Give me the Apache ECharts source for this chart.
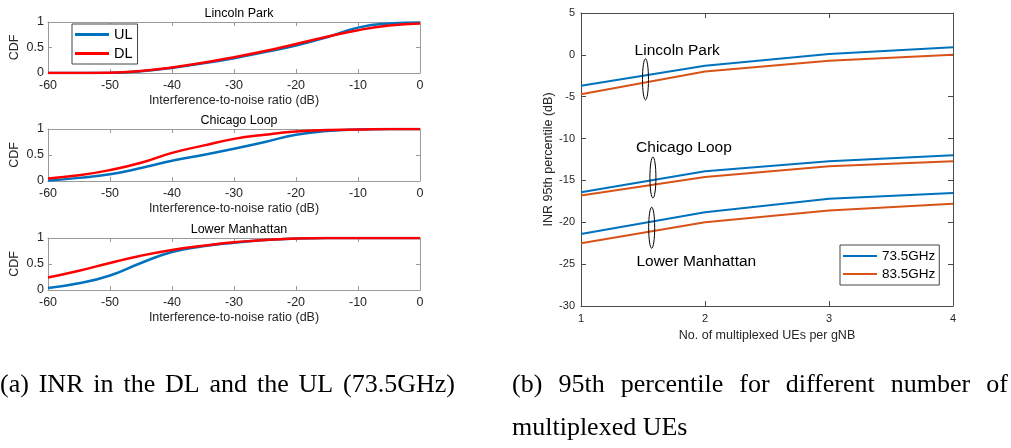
<!DOCTYPE html>
<html><head><meta charset="utf-8">
<script src="https://cdn.jsdelivr.net/npm/echarts@6/dist/echarts.min.js"></script>
<style>html,body{margin:0;padding:0;background:#fff}#c{width:1011px;height:448px}</style>
</head><body><div id="c"></div>
<script>
// ---- Data: left (CDF of INR) ----
const inrDb = [-60,-55,-50,-45,-40,-35,-30,-25,-20,-15,-10,-5,0];
const lincolnUL = [0,0.001,0.004,0.035,0.10,0.19,0.29,0.41,0.54,0.70,0.89,0.97,0.99];
const lincolnDL = [0,0.001,0.005,0.04,0.11,0.20,0.31,0.43,0.57,0.71,0.84,0.93,0.97];
const chicagoUL = [0.01,0.06,0.13,0.25,0.39,0.50,0.62,0.75,0.89,0.96,0.99,1,1];
const chicagoDL = [0.05,0.11,0.21,0.35,0.54,0.68,0.81,0.89,0.95,0.98,0.99,1,1];
const manhattanUL = [0.04,0.13,0.28,0.52,0.73,0.84,0.91,0.96,0.99,1,1,1,1];
const manhattanDL = [0.24,0.37,0.52,0.66,0.77,0.85,0.92,0.96,0.99,1,1,1,1];
const leftTitles = ['Lincoln Park','Chicago Loop','Lower Manhattan'];

// ---- Data: right (95th percentile INR) ----
const ues = [1,2,3,4];
const lincoln735 = [-3.7,-1.3,0.1,0.9];
const lincoln835 = [-4.7,-2.0,-0.7,0.0];
const chicago735 = [-16.4,-13.9,-12.7,-12.0];
const chicago835 = [-16.8,-14.6,-13.3,-12.7];
const manhattan735 = [-21.4,-18.8,-17.2,-16.5];
const manhattan835 = [-22.5,-20.0,-18.6,-17.8];
// annotation ellipses: [x, yTop, yBottom]
const ellipses = [[1.52,-0.47,-5.38],[1.58,-12.2,-17.1],[1.57,-18.2,-23.1]];
// annotation labels: [x, y]
const labelPos = [[1.776,0.5],[1.83,-11.1],[1.93,-24.7]];
const labelText = ['Lincoln Park','Chicago Loop','Lower Manhattan'];

const captionA = '(a) INR in the DL and the UL (73.5GHz)';
const captionB1 = '(b) 95th percentile for different number of';
const captionB2 = 'multiplexed UEs';

const BLUE = '#0072BD', RED = '#FF0000', ORANGE = '#D95319';
const SANS = '"Liberation Sans", Arial, sans-serif';
const SERIF = '"Liberation Serif", "Times New Roman", serif';

const chart = echarts.init(document.getElementById('c'));

const grids = [
  {left:48, right:591, top:22, height:51},
  {left:48, right:591, top:129, height:52},
  {left:48, right:591, top:238, height:52},
  {left:581, right:58, top:13, bottom:142}
];
const xAxes = [], yAxes = [];
const leftAxisColor = '#9a9a9a', rightAxisColor = '#4a4a4a';
for (let g = 0; g < 3; g++) {
  xAxes.push({type:'value', gridIndex:g, min:-60, max:0, interval:10, position:'bottom',
    name:'Interference-to-noise ratio (dB)', nameLocation:'middle', nameGap:21,
    nameTextStyle:{fontFamily:SANS, fontSize:12.5, color:'#262626'},
    axisLine:{show:true, onZero:false, lineStyle:{color:leftAxisColor, width:1}},
    axisTick:{show:true, inside:true, length:4, lineStyle:{color:leftAxisColor}},
    axisLabel:{fontFamily:SANS, fontSize:12.5, color:'#262626', margin:6},
    splitLine:{show:false}});
  xAxes.push({type:'value', gridIndex:g, min:-60, max:0, interval:10, position:'top',
    axisLine:{show:true, onZero:false, lineStyle:{color:leftAxisColor, width:1}},
    axisTick:{show:true, inside:true, length:4, lineStyle:{color:leftAxisColor}},
    axisLabel:{show:false}, splitLine:{show:false}});
  yAxes.push({type:'value', gridIndex:g, min:0, max:1, interval:0.5, position:'left',
    name:'CDF', nameLocation:'middle', nameGap:27, nameRotate:90,
    nameTextStyle:{fontFamily:SANS, fontSize:12.5, color:'#262626'},
    axisLine:{show:true, onZero:false, lineStyle:{color:leftAxisColor, width:1}},
    axisTick:{show:true, inside:true, length:4, lineStyle:{color:leftAxisColor}},
    axisLabel:{fontFamily:SANS, fontSize:12.5, color:'#262626', margin:4},
    splitLine:{show:false}});
  yAxes.push({type:'value', gridIndex:g, min:0, max:1, interval:0.5, position:'right',
    axisLine:{show:true, onZero:false, lineStyle:{color:leftAxisColor, width:1}},
    axisTick:{show:true, inside:true, length:4, lineStyle:{color:leftAxisColor}},
    axisLabel:{show:false}, splitLine:{show:false}});
}
// right panel axes: xAxis index 6,7 ; yAxis index 6,7
xAxes.push({type:'value', gridIndex:3, min:1, max:4, interval:1, position:'bottom',
  name:'No. of multiplexed UEs per gNB', nameLocation:'middle', nameGap:22,
  nameTextStyle:{fontFamily:SANS, fontSize:12.5, color:'#262626'},
  axisLine:{show:true, onZero:false, lineStyle:{color:rightAxisColor, width:1}},
  axisTick:{show:true, inside:true, length:5, lineStyle:{color:rightAxisColor}},
  axisLabel:{fontFamily:SANS, fontSize:11, color:'#262626', margin:7},
  splitLine:{show:false}});
xAxes.push({type:'value', gridIndex:3, min:1, max:4, interval:1, position:'top',
  axisLine:{show:true, onZero:false, lineStyle:{color:rightAxisColor, width:1}},
  axisTick:{show:true, inside:true, length:5, lineStyle:{color:rightAxisColor}},
  axisLabel:{show:false}, splitLine:{show:false}});
yAxes.push({type:'value', gridIndex:3, min:-30, max:5, interval:5, position:'left',
  name:'INR 95th percentile (dB)', nameLocation:'middle', nameGap:26, nameRotate:90,
  nameTextStyle:{fontFamily:SANS, fontSize:12.5, color:'#262626'},
  axisLine:{show:true, onZero:false, lineStyle:{color:rightAxisColor, width:1}},
  axisTick:{show:true, inside:true, length:5, lineStyle:{color:rightAxisColor}},
  axisLabel:{fontFamily:SANS, fontSize:11, color:'#262626', margin:6},
  splitLine:{show:false}});
yAxes.push({type:'value', gridIndex:3, min:-30, max:5, interval:5, position:'right',
  axisLine:{show:true, onZero:false, lineStyle:{color:rightAxisColor, width:1}},
  axisTick:{show:true, inside:true, length:5, lineStyle:{color:rightAxisColor}},
  axisLabel:{show:false}, splitLine:{show:false}});

function zip(xs, ys){ return xs.map((x,i)=>[x, ys[i]]); }
const series = [];
const leftData = [[lincolnUL,lincolnDL],[chicagoUL,chicagoDL],[manhattanUL,manhattanDL]];
leftData.forEach((pair, g) => {
  series.push({type:'line', name:'UL', xAxisIndex:g*2, yAxisIndex:g*2, data:zip(inrDb,pair[0]),
    smooth:0.5, showSymbol:false, lineStyle:{color:BLUE, width:2.5}, itemStyle:{color:BLUE}, z:2});
  series.push({type:'line', name:'DL', xAxisIndex:g*2, yAxisIndex:g*2, data:zip(inrDb,pair[1]),
    smooth:0.5, showSymbol:false, lineStyle:{color:RED, width:2.5}, itemStyle:{color:RED}, z:3});
});
[[lincoln735,lincoln835],[chicago735,chicago835],[manhattan735,manhattan835]].forEach(pair => {
  series.push({type:'line', name:'73.5GHz', xAxisIndex:6, yAxisIndex:6, data:zip(ues,pair[0]),
    showSymbol:false, lineStyle:{color:BLUE, width:2}, itemStyle:{color:BLUE}});
  series.push({type:'line', name:'83.5GHz', xAxisIndex:6, yAxisIndex:6, data:zip(ues,pair[1]),
    showSymbol:false, lineStyle:{color:ORANGE, width:2}, itemStyle:{color:ORANGE}});
});
series.push({type:'custom', xAxisIndex:6, yAxisIndex:6, silent:true, z:5,
  data: ellipses,
  renderItem: function(params, api){
    const top = api.coord([api.value(0), api.value(1)]);
    const bot = api.coord([api.value(0), api.value(2)]);
    return {type:'ellipse', shape:{cx:top[0], cy:(top[1]+bot[1])/2, rx:3, ry:Math.abs(bot[1]-top[1])/2},
      style:{fill:null, stroke:'#000', lineWidth:1}};
  }});
series.push({type:'custom', xAxisIndex:6, yAxisIndex:6, silent:true, z:5,
  data: labelPos,
  renderItem: function(params, api){
    const p = api.coord([api.value(0), api.value(1)]);
    return {type:'text', x:p[0], y:p[1],
      style:{text:labelText[params.dataIndex], fill:'#000', font:'15.5px ' + SANS, align:'center', verticalAlign:'middle'}};
  }});

// caption layout with justified words
const mctx = document.createElement('canvas').getContext('2d');
function justified(text, x0, x1, bottom, font){
  mctx.font = font;
  const words = text.split(' ');
  const widths = words.map(w => mctx.measureText(w).width);
  const total = widths.reduce((a,b)=>a+b,0);
  const gap = words.length > 1 ? (x1 - x0 - total)/(words.length-1) : 0;
  let x = x0; const els = [];
  words.forEach((w,i)=>{
    els.push({type:'text', x:x, y:bottom, style:{text:w, font:font, fill:'#000', verticalAlign:'bottom'}});
    x += widths[i] + gap;
  });
  return els;
}
const capFont = '26px ' + SERIF;
const graphics = [].concat(
  justified(captionA, 0, 455, 398, capFont),
  justified(captionB1, 512, 1008, 398, capFont),
  [{type:'text', x:512, y:441, style:{text:captionB2, font:capFont, fill:'#000', verticalAlign:'bottom'}}]
);

chart.setOption({
  animation:false,
  backgroundColor:'#fff',
  title: leftTitles.map((t,i)=>({text:t, left:234, top:[2,109,218][i], textAlign:'center',
    textStyle:{fontFamily:SANS, fontSize:12.5, fontWeight:'normal', color:'#000'}})),
  legend:[
    {data:['UL','DL'], orient:'vertical', left:72, top:24, icon:'rect', itemWidth:34, itemHeight:3, itemGap:4,
      padding:[3,5,3,3], borderColor:'#444', borderWidth:1, backgroundColor:'#fff',
      textStyle:{fontFamily:SANS, fontSize:14.5, color:'#000'}, selectedMode:false},
    {data:['73.5GHz','83.5GHz'], orient:'vertical', left:840, top:245, icon:'rect', itemWidth:34, itemHeight:2, itemGap:4,
      padding:[4,4,4,3], borderColor:'#444', borderWidth:1, backgroundColor:'#fff',
      textStyle:{fontFamily:SANS, fontSize:13.5, color:'#000'}, selectedMode:false}
  ],
  grid: grids,
  xAxis: xAxes,
  yAxis: yAxes,
  series: series,
  graphic: graphics
});
</script></body></html>
